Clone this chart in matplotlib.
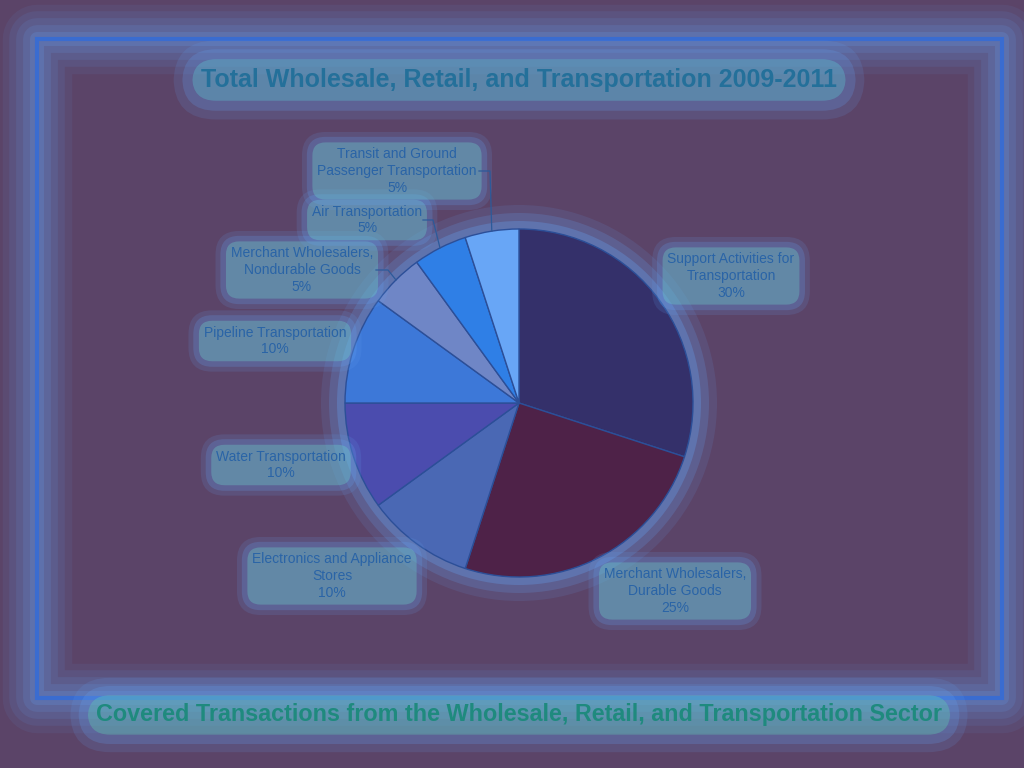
import math
import matplotlib
matplotlib.use("Agg")
from matplotlib import pyplot as plt
from matplotlib.patches import Rectangle, Circle

# данные
categories = ["Support Activities for\nTransportation",
              "Merchant Wholesalers,\nDurable Goods",
              "Electronics and Appliance\nStores",
              "Water Transportation",
              "Pipeline Transportation",
              "Merchant Wholesalers,\nNondurable Goods",
              "Air Transportation",
              "Transit and Ground\nPassenger Transportation"]
shares = [30, 25, 10, 10, 10, 5, 5, 5]
title = "Total Wholesale, Retail, and Transportation 2009-2011"
caption = "Covered Transactions from the Wholesale, Retail, and Transportation Sector"

wedge_colors = ["#34306a", "#4e2248", "#4a68b4", "#4b4cae",
                "#3d78d8", "#6f86c6", "#2f7fe6", "#68a6f6"]

# позиции подписей (пиксели картинки, y сверху)
label_pos = [(731, 276), (675, 591), (332, 576), (281, 465),
             (275, 341), (302, 270), (367, 220), (397, 171)]
# выноски: (конец текста x, излом x)
leaders = {5: (376, 388), 6: (423, 433), 7: (479, 490)}

plt.rcParams['font.family'] = ['Liberation Sans', 'DejaVu Sans']

W, H = 1024, 768
fig = plt.figure(figsize=(10.24, 7.68), dpi=100)
fig.patch.set_facecolor("#5b4468")
ax = fig.add_axes([0, 0, 1, 1])

cx, cy, r = 519, H - 403, 174
GLOW = "#64a2f2"


def glow_text(x, y, s, color, inner, **kw):
    # мягкое свечение: несколько подложек с убывающей прозрачностью
    for pad, a, c in [(1.1, 0.14, GLOW), (0.75, 0.22, GLOW), (0.35, 0.35, inner)]:
        ax.text(x, y, s, color="none", zorder=4.5,
                bbox=dict(boxstyle=f"round,pad={pad},rounding_size={pad + 0.6}",
                          fc=c, ec="none", alpha=a), **kw)
    ax.text(x, y, s, color=color, zorder=5, **kw)


# свечение рамки
for lw, a in [(50, 0.08), (40, 0.1), (30, 0.12), (20, 0.15), (10, 0.2)]:
    ax.add_patch(Rectangle((37, H - 698), 965, 659, fill=False, ec=GLOW,
                           lw=lw, alpha=a, zorder=1, joinstyle="round"))
ax.add_patch(Rectangle((37, H - 698), 965, 659, fill=False, ec="#3a6cd0",
                       lw=3, zorder=2))

# свечение за кругом
for dr, a in [(24, 0.12), (16, 0.2), (8, 0.3)]:
    ax.add_patch(Circle((cx, cy), r + dr, color=GLOW, alpha=a, zorder=1, lw=0))

wedges, _ = ax.pie(shares, colors=wedge_colors, startangle=90, counterclock=False,
                   center=(cx, cy), radius=r, frame=True,
                   wedgeprops=dict(edgecolor="#2c4f98", linewidth=1, zorder=3))
ax.set_xlim(0, W)
ax.set_ylim(0, H)
ax.set_aspect("equal")
ax.axis("off")

for i, (name, v) in enumerate(zip(categories, shares)):
    x, y = label_pos[i]
    glow_text(x, H - y, f"{name}\n{v}%", "#2a64a6", "#6cd0c8", ha="center", va="center",
              fontsize=10, linespacing=1.25)
    if i in leaders:
        w = wedges[i]
        mid = math.radians((w.theta1 + w.theta2) / 2)
        px, py = cx + r * math.cos(mid), cy + r * math.sin(mid)
        x0, x1 = leaders[i]
        ax.plot([x0, x1, px], [H - y, H - y, py], color="#2c5a9a", lw=0.9, zorder=6)

glow_text(519, H - 80, title, "#24709a", "#5cc8d0", ha="center", va="center",
          fontsize=18, fontweight="bold")
glow_text(519, H - 715, caption, "#1f8a7e", "#60d0b0", ha="center", va="center",
          fontsize=16.8, fontweight="bold")

fig.savefig("out.png", dpi=100, facecolor=fig.get_facecolor())
